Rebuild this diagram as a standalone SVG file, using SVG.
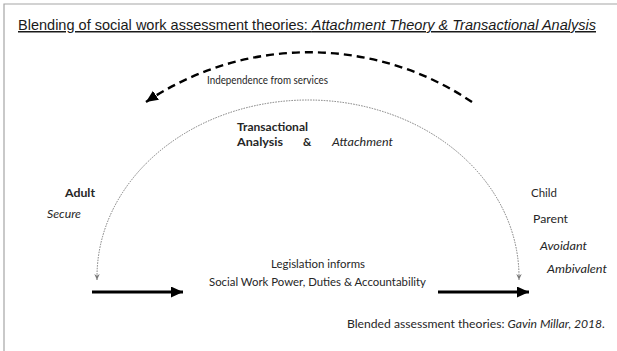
<svg xmlns="http://www.w3.org/2000/svg" width="617" height="351" viewBox="0 0 617 351">
<defs>
<style>
.t{font-family:Lato,"Open Sans","Liberation Sans",sans-serif;font-size:11.5px;fill:#262626}
.b{font-weight:bold}
.i{font-style:italic}
.title{font-family:"Liberation Sans",Arial,sans-serif;font-size:15px;fill:#1a1a1a;text-decoration:underline}
.dash{fill:none;stroke:#000;stroke-width:2.4;stroke-dasharray:8 5}
.dot{fill:none;stroke:#7a7a7a;stroke-width:1;stroke-dasharray:1.5 1.2}
.thick{stroke:#000;stroke-width:3.2;fill:none}
</style>
<marker id="mDash" markerUnits="userSpaceOnUse" markerWidth="12" markerHeight="12" viewBox="0 0 10 10" refX="10" refY="5" orient="auto">
<path d="M0,0.5 L10,5 L0,9.5 Z" fill="#000"/>
</marker>
<marker id="mDot" markerUnits="userSpaceOnUse" markerWidth="6" markerHeight="6" viewBox="0 0 10 10" refX="10" refY="5" orient="auto-start-reverse">
<path d="M0,0.5 L10,5 L0,9.5 L3,5 Z" fill="#7a7a7a"/>
</marker>
<marker id="mThick" markerUnits="userSpaceOnUse" markerWidth="12" markerHeight="11" viewBox="0 0 12 11" refX="12" refY="5.5" orient="auto">
<path d="M0,0 L12,5.5 L0,11 Z" fill="#000"/>
</marker>
</defs>
<rect x="0" y="0" width="617" height="351" fill="#fff"/>
<path d="M4,351 L4,4 L617,4" fill="none" stroke="#a6a6a6" stroke-width="1.2"/>

<g id="title">
<text class="title" x="18" y="30" textLength="578" lengthAdjust="spacingAndGlyphs"><tspan>Blending of social work assessment theories: </tspan><tspan class="i">Attachment Theory &amp; Transactional Analysis</tspan></text>
</g>

<g id="connectors">
<path class="dash" d="M472,102 A292,292 0 0 0 146,102" marker-end="url(#mDash)"/>
<path class="dot" d="M97,280 L97,277 A211,177 0 0 1 519,277 L519,280" marker-start="url(#mDot)" marker-end="url(#mDot)"/>
<line class="thick" x1="92" y1="292" x2="183" y2="292" marker-end="url(#mThick)"/>
<line class="thick" x1="438" y1="292" x2="529" y2="292" marker-end="url(#mThick)"/>
</g>

<g id="independence">
<text class="t" x="207" y="84" style="font-size:12px" textLength="121" lengthAdjust="spacingAndGlyphs">Independence from services</text>
</g>
<g id="ta-attachment">
<text class="t b" x="237" y="131" textLength="71" lengthAdjust="spacingAndGlyphs">Transactional</text>
<text class="t b" x="237" y="146" textLength="46" lengthAdjust="spacingAndGlyphs">Analysis</text>
<text class="t b" x="303" y="146">&amp;</text>
<text class="t i" x="332" y="146" textLength="61" lengthAdjust="spacingAndGlyphs">Attachment</text>
</g>
<g id="adult">
<text class="t b" x="65" y="197" textLength="30" lengthAdjust="spacingAndGlyphs">Adult</text>
<text class="t i" x="47" y="218" textLength="34" lengthAdjust="spacingAndGlyphs">Secure</text>
</g>
<g id="child-parent">
<text class="t" x="531" y="197" textLength="26" lengthAdjust="spacingAndGlyphs">Child</text>
<text class="t" x="533" y="223" textLength="35" lengthAdjust="spacingAndGlyphs">Parent</text>
<text class="t i" x="540" y="250" textLength="47" lengthAdjust="spacingAndGlyphs">Avoidant</text>
<text class="t i" x="547" y="273" textLength="60" lengthAdjust="spacingAndGlyphs">Ambivalent</text>
</g>
<g id="legislation">
<text class="t" x="271" y="268" textLength="94" lengthAdjust="spacingAndGlyphs">Legislation informs</text>
<text class="t" x="209" y="286" textLength="217" lengthAdjust="spacingAndGlyphs">Social Work Power, Duties &amp; Accountability</text>
</g>
<g id="credit">
<text class="t" x="347" y="328" textLength="258" lengthAdjust="spacingAndGlyphs"><tspan>Blended assessment theories: </tspan><tspan class="i">Gavin Millar, 2018.</tspan></text>
</g>
</svg>
